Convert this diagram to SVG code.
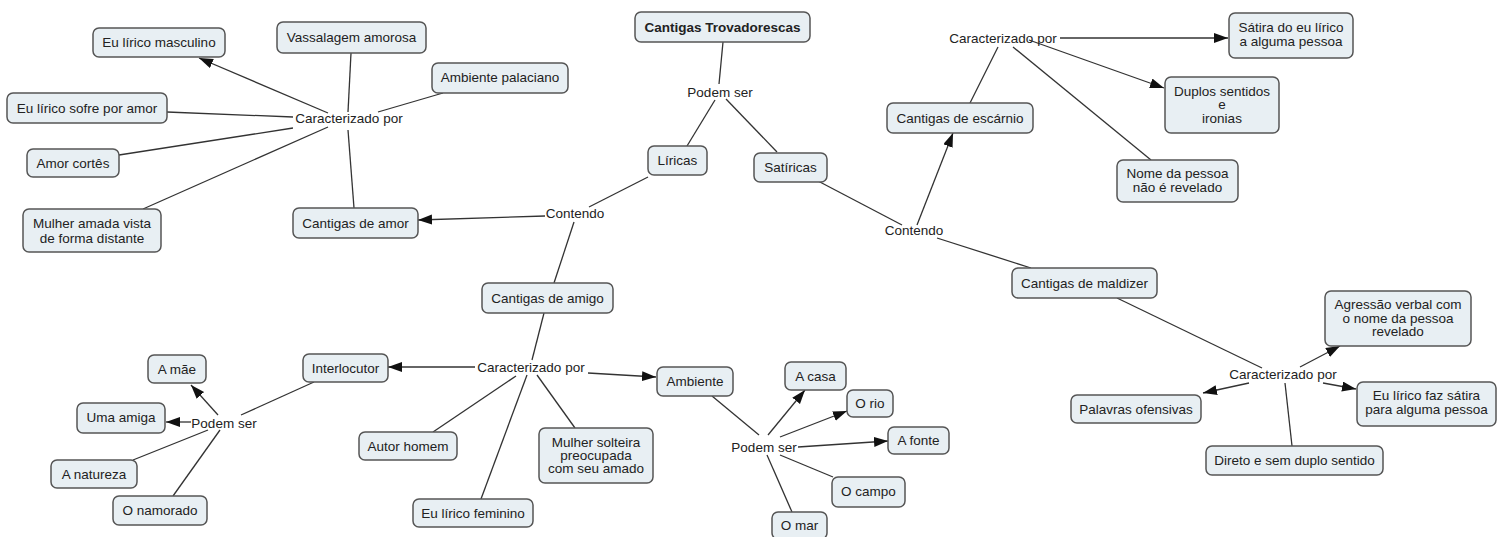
<svg xmlns="http://www.w3.org/2000/svg" width="1512" height="537" viewBox="0 0 1512 537">
<style>
.n rect{fill:#e8eff3;stroke:#555;stroke-width:1.5}
.n text,.lp{font-family:"Liberation Sans",Arial,sans-serif;font-size:13.5px;fill:#222;text-anchor:middle}
.b{font-weight:bold}
.c line{stroke:#333;stroke-width:1.3}
.c line.a{marker-end:url(#ah)}
</style>
<defs>
<marker id="ah" markerUnits="userSpaceOnUse" markerWidth="15" markerHeight="11" refX="14" refY="5" orient="auto">
<path d="M0,0 L14,5 L0,10 z" fill="#111"/>
</marker>
</defs>
<rect width="1512" height="537" fill="#fff"/>
<g class="c" id="connectors">
<line x1="723" y1="42" x2="719" y2="84"/>
<line x1="715" y1="100" x2="687" y2="146"/>
<line x1="726" y1="99" x2="777" y2="152"/>
<line x1="648" y1="177" x2="589" y2="207"/>
<line class="a" x1="545" y1="216" x2="418" y2="220"/>
<line x1="574" y1="222" x2="554" y2="283"/>
<line class="a" x1="328" y1="113" x2="199" y2="58"/>
<line x1="351" y1="53" x2="348" y2="112"/>
<line x1="378" y1="112" x2="443" y2="93"/>
<line x1="167" y1="112" x2="293" y2="117"/>
<line x1="119" y1="155" x2="293" y2="128"/>
<line x1="143" y1="209" x2="328" y2="127"/>
<line x1="348" y1="130" x2="354" y2="208"/>
<line x1="544" y1="313" x2="532" y2="360"/>
<line class="a" x1="588" y1="373" x2="656" y2="377"/>
<line class="a" x1="475" y1="367" x2="388" y2="367"/>
<line x1="516" y1="376" x2="433" y2="432"/>
<line x1="527" y1="375" x2="481" y2="499"/>
<line x1="537" y1="375" x2="575" y2="428"/>
<line x1="314" y1="382" x2="241" y2="415"/>
<line class="a" x1="218" y1="415" x2="191" y2="385"/>
<line class="a" x1="191" y1="422" x2="166" y2="422"/>
<line x1="208" y1="430" x2="133" y2="460"/>
<line x1="220" y1="430" x2="173" y2="496"/>
<line x1="712" y1="396" x2="759" y2="435"/>
<line class="a" x1="768" y1="435" x2="805" y2="390"/>
<line class="a" x1="780" y1="437" x2="847" y2="411"/>
<line class="a" x1="798" y1="447" x2="888" y2="441"/>
<line x1="780" y1="455" x2="833" y2="477"/>
<line x1="767" y1="455" x2="792" y2="512"/>
<line x1="818" y1="181" x2="902" y2="225"/>
<line class="a" x1="917" y1="225" x2="953" y2="133"/>
<line x1="937" y1="238" x2="1031" y2="268"/>
<line x1="998" y1="47" x2="970" y2="103"/>
<line class="a" x1="1060" y1="38" x2="1228" y2="38"/>
<line class="a" x1="1029" y1="40" x2="1164" y2="88"/>
<line x1="1013" y1="47" x2="1151" y2="160"/>
<line x1="1117" y1="298" x2="1262" y2="368"/>
<line class="a" x1="1300" y1="367" x2="1340" y2="346"/>
<line class="a" x1="1323" y1="383" x2="1356" y2="389"/>
<line class="a" x1="1249" y1="383" x2="1203" y2="393"/>
<line x1="1285" y1="383" x2="1292" y2="446"/>
</g>
<g id="links">
<text class="lp" x="720" y="97">Podem ser</text>
<text class="lp" x="575" y="218">Contendo</text>
<text class="lp" x="349" y="123">Caracterizado por</text>
<text class="lp" x="531" y="372">Caracterizado por</text>
<text class="lp" x="224" y="428">Podem ser</text>
<text class="lp" x="764" y="452">Podem ser</text>
<text class="lp" x="914" y="235">Contendo</text>
<text class="lp" x="1003" y="43">Caracterizado por</text>
<text class="lp" x="1283" y="379">Caracterizado por</text>
</g>
<g class="n" id="n-trov"><rect x="635" y="12" width="175" height="30" rx="6"/><text class="b" x="722.5" y="32">Cantigas Trovadorescas</text></g>
<g class="n" id="n-liricas"><rect x="648" y="146" width="59" height="29" rx="6"/><text x="677.5" y="165">Líricas</text></g>
<g class="n" id="n-satiricas"><rect x="754" y="153" width="73" height="29" rx="6"/><text x="790.5" y="172">Satíricas</text></g>
<g class="n" id="n-amor"><rect x="293" y="208" width="125" height="30" rx="6"/><text x="355.5" y="228">Cantigas de amor</text></g>
<g class="n" id="n-amigo"><rect x="482" y="283" width="131" height="30" rx="6"/><text x="547.5" y="303">Cantigas de amigo</text></g>
<g class="n" id="n-escarnio"><rect x="887" y="103" width="146" height="30" rx="6"/><text x="960" y="123">Cantigas de escárnio</text></g>
<g class="n" id="n-maldizer"><rect x="1012" y="268" width="145" height="30" rx="6"/><text x="1084.5" y="288">Cantigas de maldizer</text></g>
<g class="n" id="n-eumasc"><rect x="93" y="28" width="132" height="29" rx="6"/><text x="159" y="47">Eu lírico masculino</text></g>
<g class="n" id="n-vassalagem"><rect x="277" y="22" width="149" height="31" rx="6"/><text x="351.5" y="42">Vassalagem amorosa</text></g>
<g class="n" id="n-palaciano"><rect x="432" y="63" width="136" height="30" rx="6"/><text x="500" y="82">Ambiente palaciano</text></g>
<g class="n" id="n-sofre"><rect x="7" y="93" width="160" height="30" rx="6"/><text x="87" y="113">Eu lírico sofre por amor</text></g>
<g class="n" id="n-cortes"><rect x="27" y="149" width="92" height="28" rx="6"/><text x="73" y="168">Amor cortês</text></g>
<g class="n" id="n-mulheramada"><rect x="23" y="209" width="138" height="43" rx="6"/><text x="92" y="228">Mulher amada vista</text><text x="92" y="243">de forma distante</text></g>
<g class="n" id="n-interlocutor"><rect x="303" y="354" width="85" height="28" rx="6"/><text x="345.5" y="373">Interlocutor</text></g>
<g class="n" id="n-ambiente"><rect x="657" y="367" width="76" height="29" rx="6"/><text x="695" y="386">Ambiente</text></g>
<g class="n" id="n-autor"><rect x="359" y="432" width="98" height="28" rx="6"/><text x="408" y="451">Autor homem</text></g>
<g class="n" id="n-feminino"><rect x="413" y="499" width="120" height="28" rx="6"/><text x="473" y="518">Eu lírico feminino</text></g>
<g class="n" id="n-solteira"><rect x="539" y="428" width="114" height="55" rx="6"/><text x="596" y="447">Mulher solteira</text><text x="596" y="460">preocupada</text><text x="596" y="473">com seu amado</text></g>
<g class="n" id="n-mae"><rect x="148" y="355" width="58" height="28" rx="6"/><text x="177" y="374">A mãe</text></g>
<g class="n" id="n-amiga"><rect x="77" y="403" width="88" height="30" rx="6"/><text x="121" y="422">Uma amiga</text></g>
<g class="n" id="n-natureza"><rect x="51" y="460" width="86" height="28" rx="6"/><text x="94" y="479">A natureza</text></g>
<g class="n" id="n-namorado"><rect x="113" y="496" width="94" height="29" rx="6"/><text x="160" y="515">O namorado</text></g>
<g class="n" id="n-casa"><rect x="785" y="362" width="61" height="28" rx="6"/><text x="815.5" y="381">A casa</text></g>
<g class="n" id="n-rio"><rect x="847" y="390" width="46" height="27" rx="6"/><text x="870" y="408">O rio</text></g>
<g class="n" id="n-fonte"><rect x="888" y="427" width="61" height="27" rx="6"/><text x="918.5" y="445">A fonte</text></g>
<g class="n" id="n-campo"><rect x="832" y="477" width="73" height="30" rx="6"/><text x="868.5" y="496">O campo</text></g>
<g class="n" id="n-mar"><rect x="772" y="512" width="55" height="27" rx="6"/><text x="799.5" y="530">O mar</text></g>
<g class="n" id="n-satira"><rect x="1229" y="13" width="124" height="45" rx="6"/><text x="1291" y="32">Sátira do eu lírico</text><text x="1291" y="46">a alguma pessoa</text></g>
<g class="n" id="n-duplos"><rect x="1165" y="77" width="114" height="56" rx="6"/><text x="1222" y="96">Duplos sentidos</text><text x="1222" y="109">e</text><text x="1222" y="123">ironias</text></g>
<g class="n" id="n-nome"><rect x="1117" y="160" width="121" height="42" rx="6"/><text x="1177.5" y="178">Nome da pessoa</text><text x="1177.5" y="192">não é revelado</text></g>
<g class="n" id="n-agressao"><rect x="1325" y="291" width="146" height="55" rx="6"/><text x="1398" y="309">Agressão verbal com</text><text x="1398" y="323">o nome da pessoa</text><text x="1398" y="336">revelado</text></g>
<g class="n" id="n-eufaz"><rect x="1357" y="382" width="139" height="44" rx="6"/><text x="1426.5" y="400">Eu lírico faz sátira</text><text x="1426.5" y="414">para alguma pessoa</text></g>
<g class="n" id="n-palavras"><rect x="1071" y="395" width="130" height="28" rx="6"/><text x="1136" y="414">Palavras ofensivas</text></g>
<g class="n" id="n-direto"><rect x="1206" y="446" width="177" height="29" rx="6"/><text x="1294.5" y="465">Direto e sem duplo sentido</text></g>
</svg>
